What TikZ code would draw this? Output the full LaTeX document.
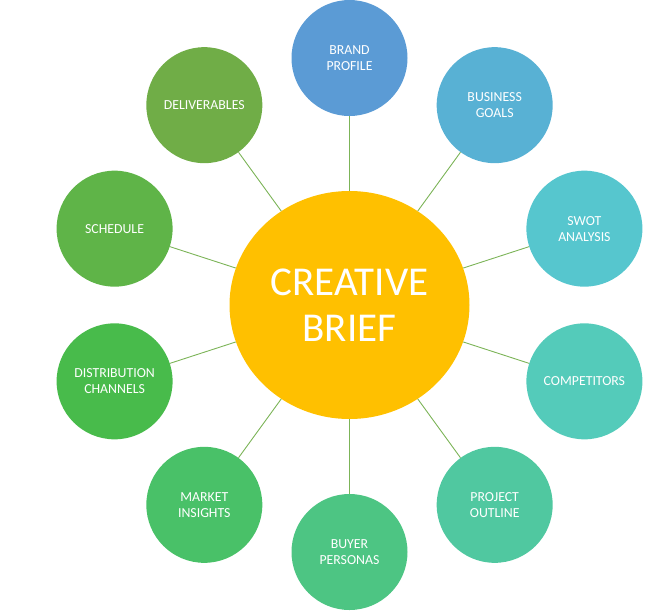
\documentclass[tikz,border=0pt]{standalone}
\usepackage{fontspec}
\setmainfont{Carlito}
\usetikzlibrary{shapes.geometric,calc}
\definecolor{BriefGold}{RGB}{255,192,0}
\definecolor{TopicA}{RGB}{91,155,213}
\definecolor{TopicB}{RGB}{88,177,212}
\definecolor{TopicC}{RGB}{86,198,206}
\definecolor{TopicD}{RGB}{84,203,186}
\definecolor{TopicE}{RGB}{80,200,160}
\definecolor{TopicF}{RGB}{77,197,131}
\definecolor{TopicG}{RGB}{73,193,104}
\definecolor{TopicH}{RGB}{72,187,75}
\definecolor{TopicI}{RGB}{95,180,72}
\definecolor{TopicJ}{RGB}{112,173,71}
\definecolor{spokeline}{RGB}{124,180,88}

\begin{document}
\begin{tikzpicture}[x=1pt,y=1pt,
  topic/.style={circle,minimum size=116pt,inner sep=0pt,text=white,align=center,
    font=\fontsize{13.8}{16}\selectfont},
  spoke/.style={spokeline,line width=0.9pt}]
  \useasboundingbox (0,0) rectangle (649,-611);
  % central ellipse
  \node[ellipse,fill=BriefGold,minimum width=240pt,minimum height=228pt,inner sep=0pt,
        text=white,align=center,font=\fontsize{41}{46}\selectfont]
        (brief) at (349.5,-305) {CREATIVE\\BRIEF};
  % ring of topics, 36 degrees apart
  \def\R{247}
  \foreach \name/\ang/\col/\txt in {
      brand/90/TopicA/{BRAND\\PROFILE},
      goals/54/TopicB/{BUSINESS\\GOALS},
      swot/18/TopicC/{SWOT\\ANALYSIS},
      rivals/-18/TopicD/{COMPETITORS},
      outline/-54/TopicE/{PROJECT\\OUTLINE},
      personas/-90/TopicF/{BUYER\\PERSONAS},
      insights/-126/TopicG/{MARKET\\INSIGHTS},
      channels/-162/TopicH/{DISTRIBUTION\\CHANNELS},
      schedule/162/TopicI/{SCHEDULE},
      deliver/126/TopicJ/{DELIVERABLES}}{
    \node[topic,fill=\col] (\name) at ($(brief.center)+(\ang:\R)$) {\txt};
    \draw[spoke] (brief) -- (\name);
  }
\end{tikzpicture}
\end{document}
